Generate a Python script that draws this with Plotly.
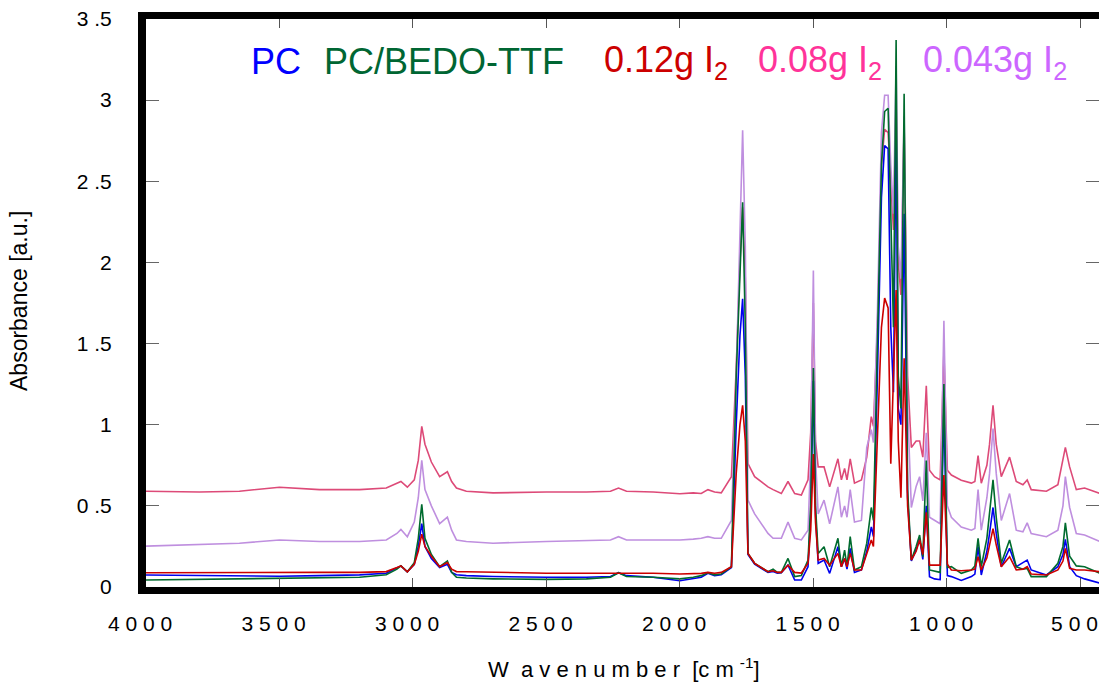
import plotly.graph_objects as go

# ---------------- data ----------------
wavenumber = [4000, 3800, 3650, 3500, 3350, 3200, 3100, 3060, 3045, 3021, 2995, 2980, 2967, 2955,
              2931, 2900, 2871, 2855, 2837, 2800, 2700, 2500, 2350, 2260, 2230, 2200, 2100, 2000,
              1950, 1920, 1895, 1870, 1845, 1807, 1789, 1775, 1765, 1755, 1745, 1720, 1670, 1651,
              1635, 1620, 1595, 1570, 1545, 1520, 1510, 1500, 1492, 1482, 1460, 1439, 1408, 1395,
              1383, 1374, 1362, 1346, 1320, 1300, 1283, 1275, 1260, 1245, 1233, 1220, 1210, 1200,
              1190, 1182, 1172, 1160, 1147, 1133, 1115, 1102, 1090, 1077, 1065, 1046, 1025, 1011,
              998, 983, 946, 908, 895, 883, 871, 850, 840, 827, 815, 796, 765, 740, 715, 699, 684,
              627, 584, 565, 556, 540, 515, 484, 425]

pc = [0.074, 0.072, 0.07, 0.066, 0.07, 0.075, 0.085, 0.12, 0.13, 0.094, 0.14, 0.25, 0.39, 0.25,
      0.176, 0.12, 0.14, 0.09, 0.075, 0.07, 0.065, 0.06, 0.06, 0.065, 0.088, 0.07, 0.06, 0.039,
      0.05, 0.06, 0.085, 0.07, 0.075, 0.12, 1.0, 1.55, 1.776, 1.3, 0.2, 0.14, 0.09, 0.095,
      0.085, 0.088, 0.135, 0.043, 0.043, 0.125, 0.45, 1.27, 0.45, 0.146, 0.166, 0.084, 0.248, 0.125,
      0.176, 0.11, 0.238, 0.09, 0.105, 0.22, 0.37, 0.31, 1.3, 2.4, 2.72, 2.7, 1.6, 1.2,
      2.85, 1.1, 1.0, 2.3, 0.55, 0.16, 0.23, 0.30, 0.17, 0.5, 0.064, 0.05, 0.045, 1.1,
      0.07, 0.064, 0.04, 0.064, 0.08, 0.25, 0.074, 0.22, 0.33, 0.49, 0.33, 0.125, 0.238, 0.125, 0.15, 0.166, 0.105,
      0.074, 0.125, 0.2, 0.293, 0.125, 0.07, 0.05, 0.023]

pc_bedo = [0.043, 0.048, 0.052, 0.055, 0.055, 0.06, 0.075, 0.11, 0.13, 0.094, 0.15, 0.30, 0.51, 0.30,
           0.20, 0.125, 0.16, 0.09, 0.06, 0.055, 0.05, 0.047, 0.05, 0.06, 0.088, 0.065, 0.06, 0.05,
           0.06, 0.07, 0.088, 0.075, 0.08, 0.125, 1.3, 2.0, 2.37, 1.6, 0.207, 0.146, 0.094, 0.11,
           0.09, 0.09, 0.176, 0.064, 0.07, 0.166, 0.5, 1.35, 0.5, 0.207, 0.248, 0.125, 0.30, 0.125,
           0.227, 0.125, 0.31, 0.105, 0.125, 0.27, 0.49, 0.41, 1.5, 2.6, 2.93, 2.95, 2.3, 1.6,
           3.37, 1.3, 1.1, 3.04, 0.6, 0.166, 0.25, 0.32, 0.187, 0.78, 0.105, 0.10, 0.09, 1.25,
           0.12, 0.125, 0.084, 0.105, 0.13, 0.30, 0.125, 0.30, 0.45, 0.66, 0.43, 0.146, 0.29, 0.125, 0.11, 0.115, 0.064,
           0.064, 0.146, 0.25, 0.395, 0.19, 0.13, 0.125, 0.084]

i2_012 = [0.088, 0.09, 0.09, 0.092, 0.09, 0.09, 0.095, 0.12, 0.13, 0.094, 0.14, 0.22, 0.326, 0.25,
          0.19, 0.125, 0.15, 0.11, 0.095, 0.094, 0.09, 0.085, 0.085, 0.085, 0.088, 0.085, 0.085, 0.08,
          0.082, 0.084, 0.09, 0.085, 0.09, 0.125, 0.7, 1.0, 1.12, 0.9, 0.207, 0.146, 0.094, 0.10,
          0.09, 0.09, 0.135, 0.09, 0.086, 0.146, 0.35, 0.82, 0.4, 0.166, 0.176, 0.135, 0.207, 0.125,
          0.176, 0.125, 0.207, 0.105, 0.105, 0.2, 0.29, 0.25, 0.9, 1.6, 1.78, 1.72, 0.76, 1.3,
          1.83, 0.9, 0.55, 1.41, 0.5, 0.166, 0.22, 0.29, 0.2, 0.46, 0.135, 0.135, 0.135, 0.69,
          0.14, 0.105, 0.1, 0.105, 0.11, 0.187, 0.105, 0.18, 0.25, 0.36, 0.26, 0.125, 0.187, 0.105, 0.11, 0.125, 0.08,
          0.074, 0.105, 0.16, 0.238, 0.115, 0.105, 0.105, 0.094]

i2_008 = [0.59, 0.585, 0.59, 0.615, 0.60, 0.60, 0.61, 0.64, 0.65, 0.615, 0.66, 0.78, 0.99, 0.88,
          0.77, 0.68, 0.71, 0.65, 0.61, 0.59, 0.58, 0.585, 0.585, 0.59, 0.61, 0.59, 0.585, 0.575,
          0.58, 0.576, 0.60, 0.585, 0.58, 0.68, 1.35, 2.0, 2.34, 1.9, 0.76, 0.68, 0.617, 0.60,
          0.59, 0.576, 0.65, 0.576, 0.566, 0.66, 0.95, 1.75, 0.9, 0.74, 0.74, 0.617, 0.79, 0.66,
          0.73, 0.66, 0.79, 0.64, 0.66, 0.80, 1.05, 0.99, 1.6, 2.6, 2.82, 2.80, 2.5, 2.2,
          3.0, 2.0, 1.8, 2.85, 1.3, 0.86, 0.90, 0.90, 0.80, 1.24, 0.72, 0.68, 0.66, 1.45,
          0.72, 0.69, 0.658, 0.64, 0.65, 0.81, 0.64, 0.75, 0.88, 1.12, 0.88, 0.68, 0.80, 0.65, 0.63, 0.66, 0.60,
          0.59, 0.63, 0.78, 0.86, 0.74, 0.60, 0.61, 0.576]

i2_0043 = [0.252, 0.26, 0.27, 0.29, 0.28, 0.28, 0.29, 0.33, 0.355, 0.31, 0.40, 0.55, 0.78, 0.60,
           0.50, 0.39, 0.43, 0.35, 0.29, 0.28, 0.27, 0.28, 0.285, 0.29, 0.31, 0.29, 0.29, 0.29,
           0.295, 0.30, 0.31, 0.30, 0.30, 0.41, 1.3, 2.3, 2.815, 2.1, 0.535, 0.45, 0.33, 0.30,
           0.30, 0.30, 0.40, 0.30, 0.29, 0.35, 0.8, 1.95, 0.8, 0.45, 0.535, 0.39, 0.617, 0.43,
           0.50, 0.43, 0.60, 0.40, 0.41, 0.86, 0.97, 0.89, 1.7, 2.8, 3.03, 3.03, 2.6, 2.3,
           3.21, 2.1, 1.9, 2.9, 1.1, 0.49, 0.62, 0.68, 0.53, 0.95, 0.43, 0.41, 0.39, 1.64,
           0.50, 0.43, 0.37, 0.35, 0.36, 0.60, 0.35, 0.55, 0.70, 0.976, 0.70, 0.41, 0.576, 0.35, 0.34, 0.395, 0.33,
           0.31, 0.35, 0.50, 0.68, 0.49, 0.33, 0.32, 0.28]

y_tickvals = [0, 0.5, 1, 1.5, 2, 2.5, 3, 3.5]
y_ticktext = ["0", "0 .5", "1", "1 .5", "2", "2 .5", "3", "3 .5"]
x_tickvals = [4000, 3500, 3000, 2500, 2000, 1500, 1000, 500]
x_ticktext = ["4 0 0 0", "3 5 0 0", "3 0 0 0", "2 5 0 0", "2 0 0 0", "1 5 0 0", "1 0 0 0", "5 0 0"]

FONT = "Liberation Sans, Arial, sans-serif"
NB = "\u00a0\u00a0"  # trailing letter-spacing, as in the original labels

series = [
    ("0.08g I2", i2_008, "#DD4A78"),
    ("0.043g I2", i2_0043, "#BF8FDF"),
    ("PC", pc, "#0000EE"),
    ("PC/BEDO-TTF", pc_bedo, "#006B2E"),
    ("0.12g I2", i2_012, "#CC0000"),
]

fig = go.Figure()
for name, ys, col in series:
    fig.add_trace(go.Scatter(x=wavenumber, y=ys, mode="lines", name=name,
                             line=dict(color=col, width=1.6), showlegend=False))

# transparent copy on a right-hand axis, only to carry the mirrored inside ticks
fig.add_trace(go.Scatter(x=wavenumber, y=pc, mode="lines", yaxis="y2", opacity=0,
                         hoverinfo="skip", showlegend=False, line=dict(width=0.1)))

fig.update_layout(
    width=1099, height=682,
    margin=dict(l=146, r=0, t=19, b=95, autoexpand=False),
    paper_bgcolor="white", plot_bgcolor="white",
    font=dict(family=FONT, color="black"),
    xaxis=dict(range=[4000, 430], tickvals=x_tickvals, ticktext=[t + NB for t in x_ticktext],
               automargin=False,
               showgrid=False, zeroline=False, showline=True, linecolor="black", linewidth=7,
               mirror="ticks", ticks="inside", ticklen=9, tickwidth=1, tickcolor="#555555",
               ticklabeloverflow="allow",
               tickfont=dict(size=21, family=FONT, color="black"), ticklabelstandoff=12),
    yaxis=dict(range=[0, 3.5], tickvals=y_tickvals, ticktext=y_ticktext, automargin=False,
               showgrid=False, zeroline=False, showline=True, linecolor="black", linewidth=8,
               mirror=False, ticks="inside", ticklen=13, tickwidth=1.3, tickcolor="#666666",
               ticklabeloverflow="allow",
               tickfont=dict(size=21, family=FONT, color="black"), ticklabelstandoff=22),
    yaxis2=dict(range=[0, 3.5], tickvals=y_tickvals, overlaying="y", side="right", anchor="x",
                automargin=False, showgrid=False, zeroline=False, showline=False,
                ticks="inside", ticklen=13, tickwidth=1.3, tickcolor="#666666",
                showticklabels=False),
)

def px2paper_x(px):
    return (px - 146) / (1099 - 146)

def py2paper_y(py):
    return (587 - py) / (587 - 19)

legend_items = [
    ("PC", "#0000FF", 249),
    ("PC/BEDO-TTF", "#006633", 322),
    ("0.12g I<sub>2</sub>", "#CC0000", 602),
    ("0.08g I<sub>2</sub>", "#FF3399", 756),
    ("0.043g I<sub>2</sub>", "#CC66FF", 921),
]
for txt, col, px in legend_items:
    fig.add_annotation(x=px2paper_x(px), y=py2paper_y(62), xref="paper", yref="paper",
                       text=txt, showarrow=False, xanchor="left", yanchor="middle",
                       font=dict(size=36, color=col, family=FONT))

xtitle = "W  a v e n u m b e r  [c m <sup>-1</sup>]"
fig.add_annotation(x=px2paper_x(624), y=py2paper_y(668), xref="paper", yref="paper",
                   text=xtitle, showarrow=False, xanchor="center", yanchor="middle",
                   font=dict(size=22, family=FONT, color="black"))
fig.add_annotation(x=px2paper_x(19), y=py2paper_y(301), xref="paper", yref="paper",
                   text="Absorbance [a.u.]", showarrow=False, textangle=-90,
                   xanchor="center", yanchor="middle",
                   font=dict(size=23, family=FONT, color="black"))

fig.write_html("out.html")
